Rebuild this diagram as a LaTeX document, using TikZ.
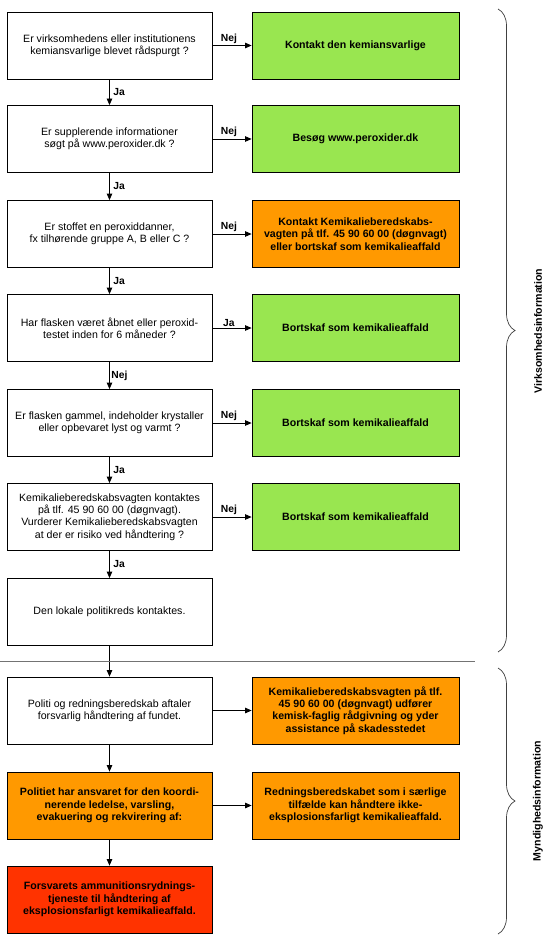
\documentclass[tikz,border=0pt]{standalone}
\usepackage{fontspec}
\setmainfont{Liberation Sans}
\usetikzlibrary{arrows.meta,decorations.pathreplacing}
\definecolor{boxgreen}{RGB}{153,230,80}
\definecolor{boxorange}{RGB}{255,153,0}
\definecolor{boxred}{RGB}{255,51,0}
\begin{document}
\begin{tikzpicture}[x=1pt,y=-1pt,
  qbox/.style={draw=black, line width=0.8pt, minimum width=205pt, minimum height=67pt,
    inner sep=2pt, align=center, font=\fontsize{10.6}{12.3}\selectfont},
  rbox/.style={draw=black, line width=0.8pt, minimum width=207pt, minimum height=67pt,
    inner sep=2pt, align=center, font=\bfseries\fontsize{10.6}{12.3}\selectfont},
  obox/.style={qbox, fill=boxorange, font=\bfseries\fontsize{10.6}{12.3}\selectfont},
  arr/.style={-{Triangle[length=6.5pt,width=5.5pt]}, line width=0.8pt},
  lab/.style={font=\bfseries\fontsize{10.3}{12}\selectfont, inner sep=1.5pt},
  vlab/.style={font=\bfseries\fontsize{10.6}{12}\selectfont, rotate=90},
  brc/.style={decorate, decoration={brace, amplitude=17pt}, line width=0.7pt, draw=black!75}
]
\useasboundingbox (0,0) rectangle (548,944);
\fill[white] (0,0) rectangle (548,944);

% left column
\node[qbox] (q1) at (109.5,45.5) {Er virksomhedens eller institutionens\\kemiansvarlige blevet rådspurgt ?};
\node[qbox] (q2) at (109.5,139) {Er supplerende informationer\\søgt på www.peroxider.dk ?};
\node[qbox] (q3) at (109.5,234) {Er stoffet en peroxiddanner,\\fx tilhørende gruppe A, B eller C ?};
\node[qbox] (q4) at (109.5,328) {Har flasken været åbnet eller peroxid-\\testet inden for 6 måneder ?};
\node[qbox] (q5) at (109.5,423) {Er flasken gammel, indeholder krystaller\\eller opbevaret lyst og varmt ?};
\node[qbox] (q6) at (109.5,517) {Kemikalieberedskabsvagten kontaktes\\på tlf. 45 90 60 00 (døgnvagt).\\Vurderer Kemikalieberedskabsvagten\\at der er risiko ved håndtering ?};
\node[qbox] (q7) at (109.5,612) {Den lokale politikreds kontaktes.};
\node[qbox] (q8) at (109.5,710.5) {Politi og redningsberedskab aftaler\\forsvarlig håndtering af fundet.};
\node[obox] (q9) at (109.5,805.5) {Politiet har ansvaret for den koordi-\\nerende ledelse, varsling,\\evakuering og rekvirering af:};
\node[obox, fill=boxred] (q10) at (109.5,899.5) {Forsvarets ammunitionsrydnings-\\tjeneste til håndtering af\\eksplosionsfarligt kemikalieaffald.};

% right column
\node[rbox, fill=boxgreen] (r1) at (355.5,45.5) {Kontakt den kemiansvarlige};
\node[rbox, fill=boxgreen] (r2) at (355.5,139) {Besøg www.peroxider.dk};
\node[rbox, fill=boxorange] (r3) at (355.5,234) {Kontakt Kemikalieberedskabs-\\vagten på tlf. 45 90 60 00 (døgnvagt)\\eller bortskaf som kemikalieaffald};
\node[rbox, fill=boxgreen] (r4) at (355.5,328) {Bortskaf som kemikalieaffald};
\node[rbox, fill=boxgreen] (r5) at (355.5,423) {Bortskaf som kemikalieaffald};
\node[rbox, fill=boxgreen] (r6) at (355.5,517) {Bortskaf som kemikalieaffald};
\node[rbox, fill=boxorange] (r8) at (355.5,710.5) {Kemikalieberedskabsvagten på tlf.\\45 90 60 00 (døgnvagt) udfører\\kemisk-faglig rådgivning og yder\\assistance på skadesstedet};
\node[rbox, fill=boxorange] (r9) at (355.5,805.5) {Redningsberedskabet som i særlige\\tilfælde kan håndtere ikke-\\eksplosionsfarligt kemikalieaffald.};

% horizontal arrows
\draw[arr] (q1) -- node[lab, above, pos=0.42] {Nej} (r1);
\draw[arr] (q2) -- node[lab, above, pos=0.42] {Nej} (r2);
\draw[arr] (q3) -- node[lab, above, pos=0.42] {Nej} (r3);
\draw[arr] (q4) -- node[lab, above, pos=0.42] {Ja} (r4);
\draw[arr] (q5) -- node[lab, above, pos=0.42] {Nej} (r5);
\draw[arr] (q6) -- node[lab, above, pos=0.42] {Nej} (r6);
\draw[arr] (q8) -- (r8);
\draw[arr] (q9) -- (r9);

% vertical arrows
\draw[arr] (q1) -- node[lab, right, xshift=2pt] {Ja} (q2);
\draw[arr] (q2) -- node[lab, right, xshift=2pt] {Ja} (q3);
\draw[arr] (q3) -- node[lab, right, xshift=2pt] {Ja} (q4);
\draw[arr] (q4) -- node[lab, right] {Nej} (q5);
\draw[arr] (q5) -- node[lab, right, xshift=2pt] {Ja} (q6);
\draw[arr] (q6) -- node[lab, right, xshift=2pt] {Ja} (q7);
\draw[arr] (q7) -- (q8);
\draw[arr] (q8) -- (q9);
\draw[arr] (q9) -- (q10);

% separator
\draw[black!55, line width=0.8pt] (0,661) -- (475,661);

% braces
\draw[brc] (498,9) -- (498,652);
\draw[brc] (498,668) -- (498,934);
\node[vlab] (v1) at (538,331) {Virksomhedsinformation};
\node[vlab] (v2) at (538,801) {Myndighedsinformation};
\end{tikzpicture}
\end{document}
